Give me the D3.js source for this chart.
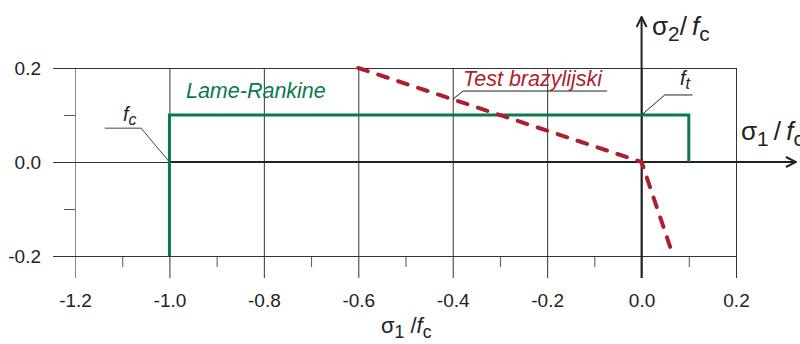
<!DOCTYPE html>
<html>
<head>
<meta charset="utf-8">
<script src="https://cdn.jsdelivr.net/npm/d3@7"></script>
<style>
  body { margin: 0; background: #fff; }
  svg { display: block; font-family: "Liberation Sans", Arial, sans-serif; }
</style>
</head>
<body>
<div id="main"></div>
<script>
const w = 800;
const h = 344;

// ticks
const xMajor = [-1.2, -1.0, -0.8, -0.6, -0.4, -0.2, 0.0, 0.2];
const xMinor = [-1.1, -0.9, -0.7, -0.5, -0.3, -0.1, 0.1];
const yMajor = [-0.2, 0.0, 0.2];
const yMinor = [-0.1, 0.1];

// series
const lameRankine = [[-1.0, -0.2], [-1.0, 0.1], [0.1, 0.1], [0.1, 0.0]];
const brazylijski = [[-0.6, 0.2], [0.0, 0.0], [0.062, -0.185]];

// annotation leaders (data units)
const fcLeader = [[-1.0, 0.0], [-1.06, 0.072], [-1.137, 0.072]];
const ftLeader = [[0.0, 0.1], [0.049, 0.1426], [0.108, 0.1426]];
const testLeader = [[-0.4, 0.1333], [-0.378, 0.151], [-0.073, 0.151]];

const green = '#0a7a4c';
const red = '#ac1f2d';
const grid = '#333';

const x = d3.scaleLinear().domain([-1.2, 0.2]).range([75, 736]);
const y = d3.scaleLinear().domain([-0.2, 0.2]).range([256, 68]);
const line = d3.line().x(d => x(d[0])).y(d => y(d[1]));

const svg = d3.select('#main').append('svg')
  .attr('width', w)
  .attr('height', h);

svg.append('defs').append('marker')
  .attr('id', 'arrow')
  .attr('viewBox', '0 0 12 12')
  .attr('refX', 11).attr('refY', 6)
  .attr('markerWidth', 12).attr('markerHeight', 12)
  .attr('markerUnits', 'userSpaceOnUse')
  .attr('orient', 'auto')
  .append('path')
  .attr('d', 'M1,1 L11,6 L1,11')
  .attr('fill', 'none')
  .attr('stroke', '#222')
  .attr('stroke-width', 2);

// vertical grid + x labels
const xAxis = svg.append('g')
  .attr('transform', 'translate(0,' + y(0.2) + ')')
  .call(d3.axisBottom(x).tickValues(xMajor).tickSize(210).tickPadding(16)
    .tickFormat(d => d.toFixed(1)));
xAxis.select('.domain').remove();
xAxis.selectAll('line').attr('stroke', grid);
xAxis.selectAll('text').attr('font-size', 19).attr('fill', '#222');
xAxis.selectAll('.tick').filter(d => d === -1.2).select('line').attr('stroke', '#888');

const xMin = svg.append('g')
  .attr('transform', 'translate(0,' + y(-0.2) + ')')
  .call(d3.axisBottom(x).tickValues(xMinor).tickSize(11).tickFormat(''));
xMin.select('.domain').remove();
xMin.selectAll('line').attr('stroke', '#555');

// horizontal grid + y labels
const yAxis = svg.append('g')
  .attr('transform', 'translate(53,0)')
  .call(d3.axisLeft(y).tickValues(yMajor).tickSize(-(x(0.2) - 53)).tickPadding(12)
    .tickFormat(d => d.toFixed(1)));
yAxis.select('.domain').remove();
yAxis.selectAll('line').attr('stroke', grid);
yAxis.selectAll('text').attr('font-size', 19).attr('fill', '#222');

const yMin = svg.append('g')
  .attr('transform', 'translate(' + x(-1.2) + ',0)')
  .call(d3.axisLeft(y).tickValues(yMinor).tickSize(11).tickFormat(''));
yMin.select('.domain').remove();
yMin.selectAll('line').attr('stroke', '#555');

// main axes with arrows
svg.append('line')
  .attr('x1', x(-1.0)).attr('y1', y(0)).attr('x2', 796).attr('y2', y(0))
  .attr('stroke', '#222').attr('stroke-width', 2)
  .attr('marker-end', 'url(#arrow)');
svg.append('line')
  .attr('x1', x(0)).attr('y1', 278).attr('x2', x(0)).attr('y2', 17)
  .attr('stroke', '#222').attr('stroke-width', 2)
  .attr('marker-end', 'url(#arrow)');

// Lame-Rankine
svg.append('path')
  .attr('d', line(lameRankine))
  .attr('fill', 'none')
  .attr('stroke', green)
  .attr('stroke-width', 3);

// Test brazylijski
svg.append('path')
  .attr('d', line(brazylijski))
  .attr('fill', 'none')
  .attr('stroke', red)
  .attr('stroke-width', 4)
  .attr('stroke-linecap', 'round')
  .attr('stroke-dasharray', '10,11');

// leaders
[[fcLeader, '#444'], [ftLeader, '#222'], [testLeader, '#222']].forEach(([pts, c]) => {
  svg.append('path')
    .attr('d', line(pts))
    .attr('fill', 'none')
    .attr('stroke', c)
    .attr('stroke-width', 1);
});

// labels
svg.append('text')
  .attr('x', x(-0.965)).attr('y', 98)
  .attr('font-size', 21.5).attr('font-style', 'italic').attr('fill', green)
  .text('Lame-Rankine');

svg.append('text')
  .attr('x', x(-0.378)).attr('y', 86)
  .attr('font-size', 21.5).attr('font-style', 'italic').attr('fill', red)
  .text('Test brazylijski');

function fLabel(px, py, sub, size) {
  const t = svg.append('text')
    .attr('x', px).attr('y', py)
    .attr('font-size', size).attr('font-style', 'italic').attr('fill', '#222');
  t.append('tspan').text('f');
  t.append('tspan').attr('dy', 4).attr('font-size', size * 0.8).text(sub);
}
fLabel(123, 121, 'c', 20);
fLabel(680, 85, 't', 20);

function sigmaLabel(px, py, idx, pre, post, size, sh) {
  const t = svg.append('text')
    .attr('x', px).attr('y', py)
    .attr('font-size', size).attr('fill', '#222');
  t.append('tspan').text('σ');
  t.append('tspan').attr('dy', sh).attr('font-size', size * 0.8).text(idx);
  t.append('tspan').attr('dy', -sh).text(pre + '/' + post);
  t.append('tspan').attr('font-style', 'italic').text('f');
  t.append('tspan').attr('dy', sh).attr('font-size', size * 0.8).text('c');
}
sigmaLabel(652, 35, '2', '', '\u2009', 26, 6);
sigmaLabel(741, 140, '1', '\u2009', '\u2009', 26, 6);
sigmaLabel(381, 333, '1', ' ', '', 22, 5);
</script>
</body>
</html>
